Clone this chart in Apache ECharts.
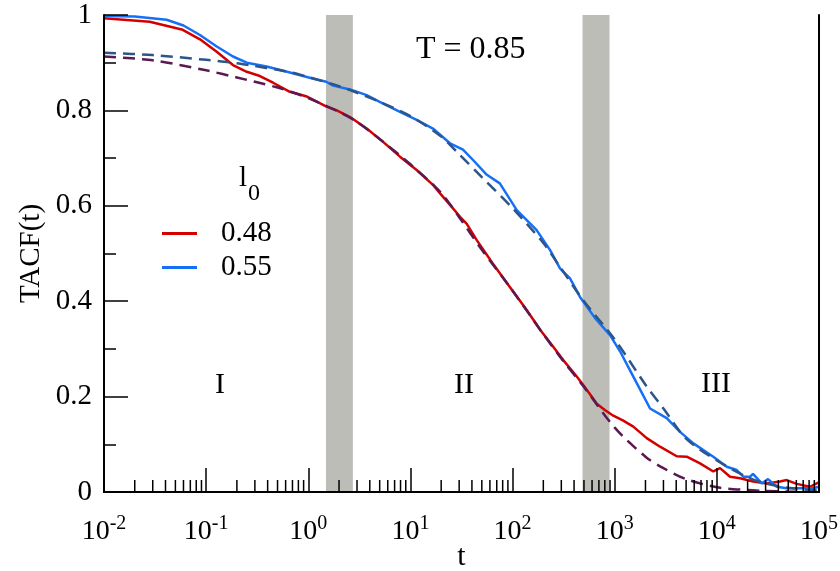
<!DOCTYPE html>
<html>
<head>
<meta charset="utf-8">
<script src="https://cdn.jsdelivr.net/npm/echarts@6/dist/echarts.min.js"></script>
<style>
  html, body { margin: 0; padding: 0; background: #fff; }
  #chart { width: 840px; height: 571px; }
</style>
</head>
<body>
<div id="chart"></div>
<script>
const FONT = '"Liberation Serif", "Times New Roman", serif';

// TACF(t), l0 = 0.48
const t48 = [0.01, 0.028, 0.059, 0.087, 0.127, 0.183, 0.25, 0.336, 0.452, 0.66, 0.97, 1.51, 1.9, 2.56, 3.73, 5.4, 7.9, 11.5, 16.6, 19.5, 24.4, 30.6, 35.6, 44.6, 64, 94, 137, 186, 249, 312, 425, 500, 573, 667, 800, 969, 1200, 1521, 2057, 2779, 4047, 5070, 6842, 9230, 10740, 13460, 16870, 22600, 30770, 41500, 48300, 60500, 81650, 95000, 100000];
const tacf48 = [0.993, 0.986, 0.969, 0.949, 0.923, 0.895, 0.881, 0.872, 0.858, 0.839, 0.829, 0.808, 0.800, 0.786, 0.762, 0.734, 0.703, 0.675, 0.644, 0.626, 0.602, 0.577, 0.562, 0.528, 0.479, 0.430, 0.382, 0.340, 0.305, 0.277, 0.242, 0.222, 0.205, 0.185, 0.172, 0.160, 0.150, 0.137, 0.113, 0.095, 0.075, 0.074, 0.060, 0.043, 0.050, 0.032, 0.029, 0.022, 0.018, 0.022, 0.025, 0.017, 0.011, 0.018, 0.020];

// TACF(t), l0 = 0.55
const t55 = [0.01, 0.02, 0.041, 0.06, 0.087, 0.127, 0.183, 0.25, 0.39, 0.62, 1.1, 1.5, 1.75, 2.56, 3.73, 5.0, 7.9, 11.5, 16.6, 24.4, 32.7, 41, 56, 75, 110, 172, 233, 291, 365, 457, 640, 899, 1127, 1412, 1770, 2218, 3228, 4357, 5888, 9230, 12500, 15640, 18160, 21130, 22600, 27480, 31700, 38550, 48300, 60500, 87300, 100000];
const tacf55 = [0.998, 0.997, 0.990, 0.978, 0.958, 0.934, 0.913, 0.900, 0.892, 0.881, 0.867, 0.860, 0.852, 0.844, 0.832, 0.818, 0.797, 0.780, 0.762, 0.731, 0.718, 0.696, 0.665, 0.647, 0.591, 0.549, 0.507, 0.469, 0.448, 0.409, 0.365, 0.329, 0.295, 0.255, 0.215, 0.175, 0.155, 0.126, 0.102, 0.074, 0.053, 0.046, 0.032, 0.032, 0.038, 0.018, 0.027, 0.011, 0.008, 0.008, 0.008, 0.011];

// fitted curves (dashed)
const tFit = [0.01, 0.03, 0.1, 0.2, 0.3, 0.5, 0.7, 1, 2, 3, 5, 10, 20, 30, 50, 100, 200, 300, 500, 1000, 2000, 3000, 5000, 10000, 20000, 30000, 50000, 100000];
const fit48 = [0.913, 0.905, 0.884, 0.869, 0.860, 0.848, 0.838, 0.826, 0.797, 0.776, 0.740, 0.687, 0.627, 0.576, 0.508, 0.422, 0.331, 0.280, 0.220, 0.135, 0.074, 0.050, 0.027, 0.010, 0.004, 0.002, 0.001, 0.000];
const fit55 = [0.921, 0.916, 0.906, 0.899, 0.893, 0.885, 0.879, 0.870, 0.851, 0.837, 0.818, 0.788, 0.745, 0.708, 0.660, 0.595, 0.522, 0.468, 0.400, 0.320, 0.225, 0.175, 0.112, 0.066, 0.031, 0.018, 0.009, 0.003];

// crossover windows between regimes (shaded)
const bands = [[1.49, 2.73], [484, 889]];

// region labels
const regions = ['I', 'II', 'III'];
const legendNames = ['0.48', '0.55'];

const zip = (xs, ys) => xs.map((x, i) => [x, ys[i]]);

// minor ticks of the log axis: 2..9 in each decade
const minorT = [];
for (let e = -2; e < 5; e++) {
  for (let k = 2; k <= 9; k++) minorT.push([k * Math.pow(10, e), 0]);
}

const chart = echarts.init(document.getElementById('chart'), null, { renderer: 'canvas' });

const axisLine = { show: true, lineStyle: { color: '#000', width: 2 } };

chart.setOption({
  animation: false,
  backgroundColor: '#fff',
  textStyle: { fontFamily: FONT, color: '#000' },
  grid: { left: 104, right: 21, top: 15, bottom: 79, containLabel: false, outerBoundsMode: 'none' },
  legend: {
    orient: 'vertical',
    left: 162,
    top: 219,
    padding: 0,
    itemWidth: 35,
    itemHeight: 3,
    itemGap: 5,
    icon: 'rect',
    data: legendNames,
    selectedMode: false,
    textStyle: { fontFamily: FONT, fontSize: 29, color: '#000', lineHeight: 28, padding: [0, 0, 0, 19] }
  },
  xAxis: [{
    type: 'log',
    logBase: 10,
    min: 0.01,
    max: 100000,
    splitNumber: 7,
    z: 5,
    axisLine: axisLine,
    axisTick: { show: true, inside: true, length: 24, lineStyle: { color: '#000', width: 1.5 } },
    splitLine: { show: false },
    axisLabel: {
      margin: 22,
      formatter: v => '{b|10}{s|' + Math.round(Math.log10(v)) + '}',
      rich: {
        b: { fontFamily: FONT, fontSize: 28, color: '#000' },
        s: { fontFamily: FONT, fontSize: 20, color: '#000', padding: [0, 0, 16, 0] }
      }
    },
    name: 't',
    nameLocation: 'middle',
    nameGap: 50,
    nameMoveOverlap: false,
    nameTextStyle: { fontFamily: FONT, fontSize: 30, color: '#000' }
  }, {
    type: 'log',
    logBase: 10,
    min: 0.01,
    max: 100000,
    position: 'top',
    z: 5,
    axisLine: axisLine,
    axisTick: { show: false },
    axisLabel: { show: false },
    splitLine: { show: false }
  }],
  yAxis: [{
    type: 'value',
    min: 0,
    max: 1,
    interval: 0.2,
    z: 5,
    axisLine: axisLine,
    axisTick: { show: true, inside: true, length: 24, lineStyle: { color: '#000', width: 1.5 } },
    minorTick: { show: true, splitNumber: 2, length: 12, lineStyle: { color: '#000', width: 1.5 } },
    splitLine: { show: false },
    minorSplitLine: { show: false },
    axisLabel: { fontFamily: FONT, fontSize: 29, color: '#000', margin: 12 },
    name: 'TACF(t)',
    nameLocation: 'middle',
    nameRotate: 90,
    nameGap: 58,
    nameMoveOverlap: false,
    nameTextStyle: { fontFamily: FONT, fontSize: 29, color: '#000' }
  }, {
    type: 'value',
    min: 0,
    max: 1,
    position: 'right',
    z: 5,
    axisLine: axisLine,
    axisTick: { show: false },
    axisLabel: { show: false },
    splitLine: { show: false }
  }],
  series: [
    {
      type: 'line',
      name: 'bands',
      data: [],
      z: 1,
      silent: true,
      markArea: {
        silent: true,
        itemStyle: { color: '#bbbdb6' },
        data: bands.map(b => [{ xAxis: b[0] }, { xAxis: b[1] }])
      }
    },
    {
      type: 'line',
      name: legendNames[0],
      data: zip(t48, tacf48),
      showSymbol: false,
      z: 2,
      color: '#d40000',
      lineStyle: { color: '#d40000', width: 2.5 }
    },
    {
      type: 'line',
      name: legendNames[1],
      data: zip(t55, tacf55),
      showSymbol: false,
      z: 2,
      color: '#1670f5',
      lineStyle: { color: '#1670f5', width: 2.5 }
    },
    {
      type: 'line',
      name: 'fit 0.48',
      data: zip(tFit, fit48),
      showSymbol: false,
      smooth: 0.3,
      z: 3,
      lineStyle: { color: '#5c1850', width: 2.5, type: [12, 7] }
    },
    {
      type: 'line',
      name: 'fit 0.55',
      data: zip(tFit, fit55),
      showSymbol: false,
      smooth: 0.3,
      z: 3,
      lineStyle: { color: '#2c5588', width: 2.5, type: [12, 7] }
    },
    {
      type: 'custom',
      name: 'minor ticks',
      data: minorT,
      z: 6,
      silent: true,
      encode: { x: 0, y: 1 },
      renderItem: (params, api) => {
        const p = api.coord([api.value(0), 0]);
        return {
          type: 'line',
          shape: { x1: p[0], y1: p[1], x2: p[0], y2: p[1] - 12 },
          style: { stroke: '#000', lineWidth: 1.5 }
        };
      }
    }
  ],
  graphic: [
    { type: 'text', left: 416, top: 34, style: { text: 'T = 0.85', font: '32px ' + FONT, fill: '#000' } },
    { type: 'text', x: 220, y: 385, style: { text: regions[0], font: '30px ' + FONT, fill: '#000', align: 'center', verticalAlign: 'middle' } },
    { type: 'text', x: 464, y: 385, style: { text: regions[1], font: '30px ' + FONT, fill: '#000', align: 'center', verticalAlign: 'middle' } },
    { type: 'text', x: 716, y: 384, style: { text: regions[2], font: '30px ' + FONT, fill: '#000', align: 'center', verticalAlign: 'middle' } },
    { type: 'text', x: 239, y: 164, style: { text: 'l', font: '29px ' + FONT, fill: '#000' } },
    { type: 'text', x: 248, y: 182, style: { text: '0', font: '24px ' + FONT, fill: '#000' } }
  ]
});
</script>
</body>
</html>
